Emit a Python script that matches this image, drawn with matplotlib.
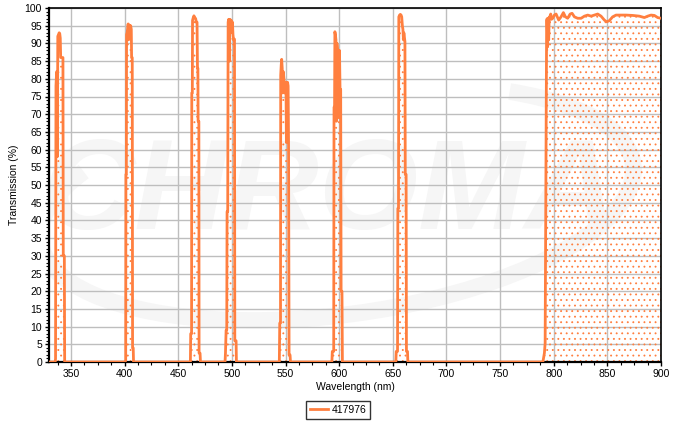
import numpy as np
import matplotlib
matplotlib.use("Agg")
import matplotlib.pyplot as plt
from matplotlib.ticker import MultipleLocator
from matplotlib.patches import Arc

plt.rcParams['font.family'] = ['Liberation Sans', 'DejaVu Sans']
plt.rcParams['hatch.linewidth'] = 0.6

# ---- data ----
series_name = "417976"

wl_p1 = [335.3, 335.6, 336.0, 336.6, 337.1, 337.3, 337.7, 338.4, 339.0, 339.5, 340.0, 340.4, 342.5, 342.8, 343.8, 344.1]
tr_p1 = [0.0, 1.0, 78, 82, 82, 58, 92, 92.5, 93, 92.8, 91.5, 86, 86, 30, 30, 0]

wl_p2 = [400.5, 401.0, 401.2, 401.6, 401.8, 402.3, 402.8, 403.3, 403.7, 404.0, 404.5, 404.9, 405.3, 405.6, 406.2, 406.5, 407.1, 407.4, 408.0, 408.3]
tr_p2 = [0.0, 0.5, 53, 53, 92.5, 93, 94, 95.5, 91, 95.2, 94.5, 95, 94, 95, 94, 86, 86, 4, 4, 0]

wl_p3 = [461.3, 461.6, 462.4, 462.6, 463.1, 463.3, 463.9, 464.6, 465.4, 466.2, 466.8, 467.5, 467.9, 468.3, 468.5, 469.2, 469.4, 470.3, 470.7]
tr_p3 = [0.0, 8, 8, 76, 76, 96.5, 97.2, 97.8, 97.3, 97, 96, 96, 83, 83, 68, 68, 2.5, 2.5, 0]

wl_p4 = [493.6, 494.0, 494.6, 495.2, 495.5, 496.1, 496.5, 497.0, 497.4, 497.9, 498.3, 499.0, 499.6, 500.2, 500.5, 501.0, 501.5, 502.4, 502.7, 503.9, 504.2]
tr_p4 = [0.0, 2.5, 9, 9, 42.5, 42.5, 96, 96.8, 85, 96, 96.8, 96, 96.4, 93, 96, 92.5, 91, 91.2, 6, 6, 0]

wl_p5 = [544.2, 544.6, 545.3, 545.5, 546.0, 546.4, 546.9, 547.4, 547.9, 548.5, 549.2, 549.8, 550.4, 550.8, 551.3, 551.9, 552.4, 552.8, 553.3, 554.2, 554.6]
tr_p5 = [0.0, 11, 11, 81, 84, 85.5, 83, 76, 82, 80, 76, 79, 79, 62, 75, 79, 78, 62, 2, 2, 0]

wl_p6 = [593.2, 593.6, 594.9, 595.2, 595.7, 596.0, 596.5, 597.0, 597.4, 597.9, 598.4, 598.9, 599.4, 599.8, 600.3, 600.8, 601.4, 601.8, 602.6, 603.0]
tr_p6 = [0.0, 3, 3, 72, 72, 93.3, 92.4, 91, 68, 90, 88, 85, 88, 69, 88, 77, 77, 20, 20, 0]

wl_p7 = [652.8, 653.2, 654.4, 654.7, 655.3, 655.6, 656.3, 657.0, 657.7, 658.3, 658.9, 659.4, 659.9, 660.3, 661.3, 661.6, 662.4, 662.7, 663.7, 664.0]
tr_p7 = [0.0, 3, 3, 43.4, 43.4, 97.5, 98, 98.2, 98, 97.5, 95, 94, 91, 93, 90.5, 53, 53, 3, 3, 0]

wl_nir = [789.9, 790.5, 791.3, 792.0, 792.7, 793.4, 793.9, 794.3, 794.8, 795.3, 795.8, 796.4, 797.2, 797.9,
          799.1, 800.6, 802.2, 804.6, 806.8, 809.0, 810.9, 813.0, 815.3, 817.1, 819.3, 822.3, 825.5,
          828.6, 831.7, 834.8, 837.9, 841.0, 844.1, 847.2, 849.3, 851.8, 854.9, 858.1, 861.2, 867.4,
          873.6, 879.8, 884.5, 887.6, 890.7, 893.8, 896.9, 900.0]
tr_nir = [0.0, 1.0, 2.5, 5.3, 48, 96.5, 97, 89, 97, 91, 97.5, 97, 98.3, 96.8,
          97.1, 98.0, 98.3, 96.6, 97.5, 98.7, 97.5, 97.1, 98.3, 98.5, 97.5, 97.1, 97.1,
          97.7, 98.0, 97.7, 98.0, 98.3, 97.7, 96.6, 96.1, 96.4, 97.5, 98.0, 98.0, 98.0,
          97.9, 97.7, 97.3, 97.7, 98.0, 97.9, 97.3, 97.1]

x_ticks = list(range(350, 901, 50))
y_ticks = list(range(0, 101, 5))

wl = np.concatenate([[329.5], wl_p1, wl_p2, wl_p3, wl_p4, wl_p5, wl_p6, wl_p7, wl_nir])
tr = np.concatenate([[0.0], tr_p1, tr_p2, tr_p3, tr_p4, tr_p5, tr_p6, tr_p7, tr_nir])

orange = '#FF7F3F'

fig = plt.figure(figsize=(6.76, 4.22), dpi=100)
ax = fig.add_axes([49/676, 1-362/422, (661-49)/676, (362-8)/422])

# faint watermark
ax.text(0.46, 0.47, "CHROMA", transform=ax.transAxes, fontsize=92, fontweight='bold',
        style='italic', color='#F6F6F6', ha='center', va='center', zorder=0)
arc = Arc((0.47, 0.45), 1.0, 0.62, angle=18, theta1=150, theta2=390,
          transform=ax.transAxes, color='#F6F6F6', lw=12, zorder=0)
ax.add_patch(arc)

ax.fill_between(wl, tr, 0, facecolor='none', edgecolor=orange, hatch='...', linewidth=0, zorder=2)
ax.plot(wl, tr, color=orange, lw=2.0, label=series_name, zorder=3)

ax.set_xlim(329.5, 900)
ax.set_ylim(0, 100)
ax.set_xticks(x_ticks)
ax.set_yticks(y_ticks)
ax.xaxis.set_minor_locator(MultipleLocator(12.5))
ax.yaxis.set_minor_locator(MultipleLocator(1))
ax.grid(True, which='major', color='#BEBEBE', lw=1.0, zorder=1)
ax.set_axisbelow(True)
ax.tick_params(axis='both', which='major', labelsize=7.5, length=3, width=1, pad=2, colors='black')
ax.tick_params(axis='both', which='minor', length=2, width=0.8)
for s in ['left', 'bottom']:
    ax.spines[s].set_linewidth(1.6)
for s in ['top', 'right']:
    ax.spines[s].set_linewidth(1.2)

ax.set_xlabel("Wavelength (nm)", fontsize=7.5, labelpad=2)
ax.set_ylabel("Transmission (%)", fontsize=7.5, labelpad=4)

leg = ax.legend(loc='center', bbox_to_anchor=(338/676, 1-410/422), bbox_transform=fig.transFigure,
                fontsize=7.5, frameon=True, fancybox=False, handlelength=1.8, borderpad=0.4,
                handletextpad=0.3)
leg.get_frame().set_edgecolor('black')
leg.get_frame().set_linewidth(1.0)

fig.savefig("out.png", dpi=100)
